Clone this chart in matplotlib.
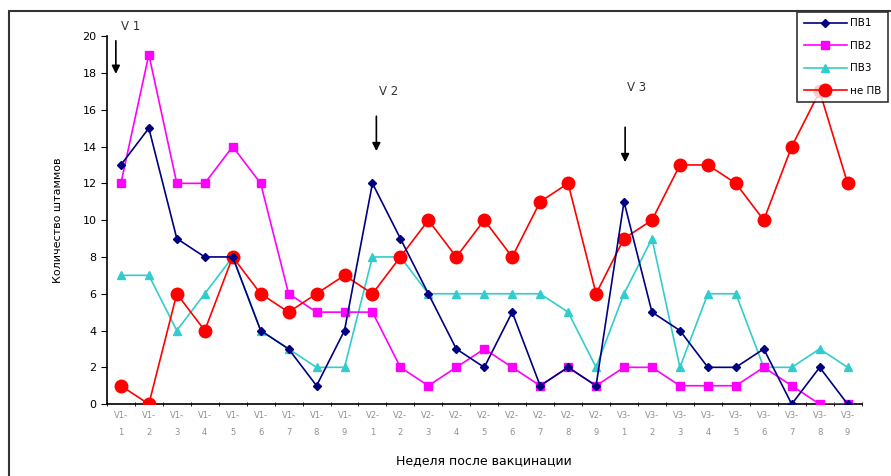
import numpy as np
import matplotlib.pyplot as plt
from matplotlib.patches import Rectangle

weeks = [f"V{v}-\n{w}" for v in (1, 2, 3) for w in range(1, 10)]

pv1 = [13, 15, 9, 8, 8, 4, 3, 1, 4,
       12, 9, 6, 3, 2, 5, 1, 2, 1,
       11, 5, 4, 2, 2, 3, 0, 2, 0]
pv2 = [12, 19, 12, 12, 14, 12, 6, 5, 5,
       5, 2, 1, 2, 3, 2, 1, 2, 1,
       2, 2, 1, 1, 1, 2, 1, 0, 0]
pv3 = [7, 7, 4, 6, 8, 4, 3, 2, 2,
       8, 8, 6, 6, 6, 6, 6, 5, 2,
       6, 9, 2, 6, 6, 2, 2, 3, 2]
ne_pv = [1, 0, 6, 4, 8, 6, 5, 6, 7,
         6, 8, 10, 8, 10, 8, 11, 12, 6,
         9, 10, 13, 13, 12, 10, 14, 17, 12]

# метки вакцинаций
vacc_labels = ["V 1", "V 2", "V 3"]
vacc_x = [-0.18, 9.14, 18.04]

fig = plt.figure(figsize=(8.91, 4.76), dpi=100)
ax = fig.add_axes([0.120, 0.151, 0.847, 0.773])

x = np.arange(len(weeks))
ax.plot(x, pv1, color='#000080', marker='D', markersize=4, lw=1.2, label='ПВ1', zorder=5)
ax.plot(x, pv2, color='#FF00FF', marker='s', markersize=5.5, lw=1.2, label='ПВ2', zorder=3)
ax.plot(x, pv3, color='#33CCCC', marker='^', markersize=6, lw=1.2, label='ПВ3', zorder=2)
ax.plot(x, ne_pv, color='#FF0000', marker='o', markersize=9, lw=1.2, label='не ПВ', zorder=4)

ax.set_xlim(-0.5, len(weeks) - 0.5)
ax.set_ylim(0, 20)
ax.set_yticks(range(0, 21, 2))
ax.set_xticks(x)
ax.set_xticklabels(weeks, fontsize=6, color='#909090', linespacing=2.2)
ax.set_xticks(np.arange(-0.5, len(weeks), 1), minor=True)
ax.tick_params(axis='x', which='major', length=0, pad=5)
ax.tick_params(axis='x', which='minor', length=3, direction='inout')
ax.tick_params(axis='y', labelsize=8, length=4, direction='out')
for s in ('top', 'right'):
    ax.spines[s].set_visible(False)
ax.spines['left'].set_linewidth(1.2)
ax.spines['bottom'].set_linewidth(1.2)

ax.set_ylabel('Количество штаммов', fontsize=8, labelpad=14)
ax.set_xlabel('Неделя после вакцинации', fontsize=9, labelpad=12)

# стрелки вакцинаций: (верх, низ, текст по y, текст по x)
arr = [(19.9, 17.8, 20.5, 0.36), (15.8, 13.6, 17.0, 9.57), (15.2, 13.0, 17.2, 18.46)]
for xi, txt, (y0, y1, ty, tx) in zip(vacc_x, vacc_labels, arr):
    ax.annotate('', xy=(xi, y1), xytext=(xi, y0),
                arrowprops=dict(arrowstyle='-|>', color='black', lw=1.2, mutation_scale=12),
                annotation_clip=False)
    ax.text(tx, ty, txt, fontsize=8.5, ha='center', va='center', color='#333333')

leg = ax.legend(loc='upper right', bbox_to_anchor=(888 / 891, 1 - 12 / 476),
                bbox_transform=fig.transFigure, borderaxespad=0, fontsize=7.5,
                frameon=True, fancybox=False, edgecolor='black', handlelength=4.2,
                borderpad=0.6, labelspacing=1.2, handletextpad=0.3)
leg.get_frame().set_linewidth(1.2)

fig.patches.append(Rectangle((9 / 891, -0.05), 1.0, 1.05 - 11 / 476, transform=fig.transFigure,
                             fill=False, edgecolor='#333333', lw=1.5))

fig.savefig('out.png', dpi=100)
